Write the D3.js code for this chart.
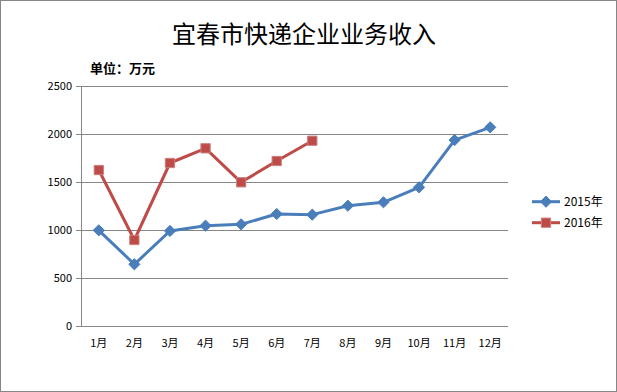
<!DOCTYPE html>
<html><head><meta charset="utf-8">
<script src="https://cdn.jsdelivr.net/npm/d3@7"></script>
<style>body{margin:0;background:#fff}svg{display:block}</style>
</head><body>
<svg id="c" width="617" height="392"></svg>
<script>
const categories = ["1月","2月","3月","4月","5月","6月","7月","8月","9月","10月","11月","12月"];
const series2015 = [1000,646,993,1048,1062,1170,1163,1256,1292,1448,1940,2073];
const series2016 = [1628,899,1701,1854,1500,1722,1933];
const yTicks = [0,500,1000,1500,2000,2500];
const seriesNames = ["2015年","2016年"];

const svg = d3.select("#c");
const font = "'Noto Sans CJK SC', 'Noto Sans', sans-serif";
svg.append("rect").attr("x",0.5).attr("y",0.5).attr("width",616).attr("height",391)
  .attr("fill","#fff").attr("stroke","#868686");

const L=81,R=508,T=86.3,B=326.3;
const x = d3.scaleBand().domain(categories).range([L,R]);
const y = d3.scaleLinear().domain([0,2500]).range([B,T]);

svg.append("text").attr("x",304).attr("y",43).attr("text-anchor","middle")
  .attr("font-family",font).attr("font-size",24).attr("fill","#000").text("宜春市快递企业业务收入");
svg.append("text").attr("x",90).attr("y",73).attr("font-family",font).attr("font-weight","bold")
  .attr("font-size",13).attr("fill","#000").text("单位：万元");

// gridlines
svg.append("g").selectAll("line").data(yTicks).join("line")
  .attr("x1",L-5).attr("x2",R).attr("y1",d=>Math.round(y(d))+0.5).attr("y2",d=>Math.round(y(d))+0.5)
  .attr("stroke","#868686").attr("stroke-width",1);
svg.append("line").attr("x1",L+0.5).attr("x2",L+0.5).attr("y1",T).attr("y2",B).attr("stroke","#868686");

svg.append("g").selectAll("text").data(yTicks).join("text")
  .attr("x",72).attr("y",d=>y(d)+4).attr("text-anchor","end")
  .attr("font-family",font).attr("font-size",11).attr("fill","#000").text(d=>d);
svg.append("g").selectAll("text").data(categories).join("text")
  .attr("x",d=>x(d)+x.bandwidth()/2).attr("y",347).attr("text-anchor","middle")
  .attr("font-family",font).attr("font-size",11).attr("fill","#000").text(d=>d);

const line = d3.line().x((d,i)=>x(categories[i])+x.bandwidth()/2).y(d=>y(d));
const colors=["#4a7ebb","#be4b48"];
const data=[series2015,series2016];
data.forEach((s,k)=>{
  svg.append("path").datum(s).attr("d",line).attr("fill","none").attr("stroke",colors[k])
    .attr("stroke-width",3).attr("stroke-linejoin","round");
});
const diamond = d3.symbol().type(d3.symbolDiamond2).size(80)();
const sq = d3.symbol().type(d3.symbolSquare2).size(110)();
svg.append("g").selectAll("path").data(series2015).join("path")
  .attr("transform",(d,i)=>`translate(${x(categories[i])+x.bandwidth()/2},${y(d)})`)
  .attr("d",diamond).attr("fill",colors[0]).attr("stroke",colors[0]).attr("stroke-width",1);
svg.append("g").selectAll("path").data(series2016).join("path")
  .attr("transform",(d,i)=>`translate(${x(categories[i])+x.bandwidth()/2},${y(d)})`)
  .attr("d",sq).attr("fill",colors[1]).attr("stroke","#c98280").attr("stroke-width",1);

// legend
const ly=[201.7,222.7];
seriesNames.forEach((n,k)=>{
  svg.append("line").attr("x1",532).attr("x2",560).attr("y1",ly[k]).attr("y2",ly[k])
    .attr("stroke",colors[k]).attr("stroke-width",3);
  svg.append("path").attr("transform",`translate(546,${ly[k]})`).attr("d",k?sq:diamond)
    .attr("fill",colors[k]).attr("stroke",k?"#c98280":colors[k]);
  svg.append("text").attr("x",564).attr("y",ly[k]+4.5).attr("font-family",font)
    .attr("font-size",12).attr("fill","#000").text(n);
});
</script>
</body></html>
